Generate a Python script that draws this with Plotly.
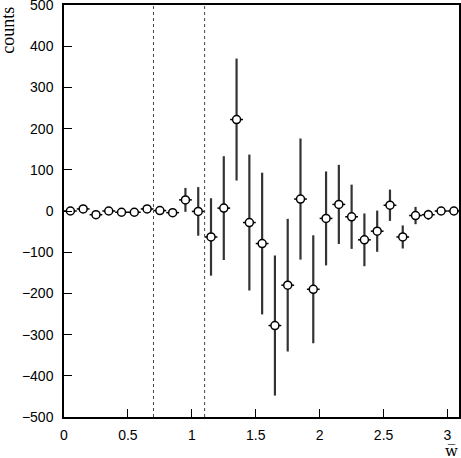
import plotly.graph_objects as go

# bin centres of w-bar
w_bar = [0.05, 0.15, 0.25, 0.35, 0.45, 0.55, 0.65, 0.75, 0.85, 0.95,
         1.05, 1.15, 1.25, 1.35, 1.45, 1.55, 1.65, 1.75, 1.85, 1.95,
         2.05, 2.15, 2.25, 2.35, 2.45, 2.55, 2.65, 2.75, 2.85, 2.95, 3.05]
counts = [0, 5, -9, 0, -3, -3, 5, 1, -4, 27,
          -1, -63, 7, 222, -28, -79, -278, -180, 29, -190,
          -18, 16, -14, -70, -49, 14, -63, -11, -9, 0, 0]
count_err = [3, 3, 3, 3, 3, 3, 3, 3, 4, 29,
             59, 94, 126, 148, 165, 172, 170, 161, 147, 131,
             114, 96, 78, 64, 50, 38, 28, 21, 12, 5, 3]
bin_half_width = [0.05] * len(w_bar)
cut_lines = [0.7, 1.1]

x_ticks = [0, 0.5, 1, 1.5, 2, 2.5, 3]
x_tick_labels = ["0", "0.5", "1", "1.5", "2", "2.5", "3"]
y_ticks = [-500, -400, -300, -200, -100, 0, 100, 200, 300, 400, 500]

fig = go.Figure()
fig.add_trace(go.Scatter(
    x=w_bar, y=counts, mode="markers",
    marker=dict(symbol="circle", size=8, color="white",
                line=dict(color="black", width=1.5)),
    error_y=dict(type="data", array=count_err, visible=True,
                 thickness=2.2, width=0, color="#333333"),
    error_x=dict(type="data", array=bin_half_width, visible=True,
                 thickness=1.5, width=0, color="black"),
    showlegend=False,
))

for c in cut_lines:
    fig.add_shape(type="line", x0=c, x1=c, y0=-500, y1=500, xref="x", yref="y",
                  line=dict(color="#444444", width=1, dash="dot"))

fig.add_annotation(text="counts", xref="paper", yref="paper",
                   x=-0.142, y=0.94, textangle=-90, showarrow=False,
                   xanchor="center", yanchor="middle",
                   font=dict(family="Liberation Serif", size=18, color="black"))
fig.add_annotation(text="w\u0305", xref="paper", yref="paper",
                   x=0.982, y=-0.082, showarrow=False,
                   xanchor="center", yanchor="middle",
                   font=dict(family="DejaVu Serif", size=15, color="black"))

fig.update_xaxes(range=[0, 3.09], tickvals=x_ticks, ticktext=x_tick_labels,
                 ticks="inside", ticklen=8, tickcolor="black", tickwidth=1,
                 showline=True, linecolor="black", linewidth=1.5, mirror=True,
                 showgrid=False, zeroline=False, ticklabelstandoff=4,
                 automargin=False, ticklabeloverflow="allow",
                 tickfont=dict(family="Liberation Sans", size=14, color="black"))
fig.update_yaxes(range=[-500, 500], tickvals=y_ticks,
                 ticks="inside", ticklen=8, tickcolor="black", tickwidth=1,
                 showline=True, linecolor="black", linewidth=1.5, mirror=True,
                 showgrid=False, zeroline=False, ticklabelstandoff=6,
                 automargin=False, ticklabeloverflow="allow",
                 tickfont=dict(family="Liberation Sans", size=14, color="black"))

fig.update_layout(width=461, height=458,
                  margin=dict(l=64, r=2, t=5, b=41),
                  plot_bgcolor="white", paper_bgcolor="white")

fig.write_html("out.html", config={"displayModeBar": False},
               post_script="document.body.style.margin='0';document.body.style.padding='0';")
